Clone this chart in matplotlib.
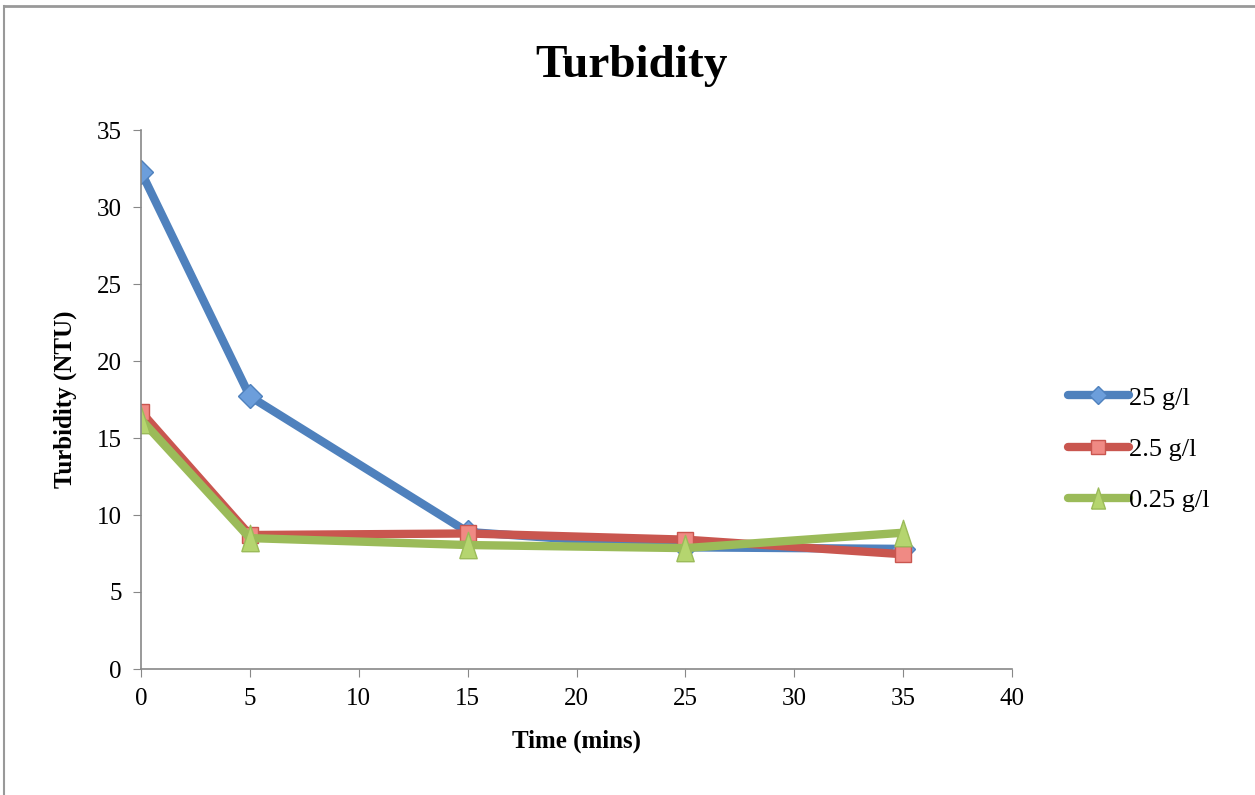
import matplotlib
matplotlib.use("Agg")
import matplotlib.pyplot as plt
from matplotlib.lines import Line2D

time = [0, 5, 15, 25, 35]
s25 = [32.3, 17.7, 8.9, 7.9, 7.8]
s2_5 = [16.7, 8.7, 8.8, 8.4, 7.45]
s0_25 = [16.2, 8.5, 8.05, 7.85, 8.85]
labels = ["25 g/l", "2.5 g/l", "0.25 g/l"]

plt.rcParams['font.family'] = ['Liberation Serif', 'DejaVu Serif']

fig = plt.figure(figsize=(12.55, 7.95), dpi=100)
ax = fig.add_axes([141/1255, 1-669/795, (1012-141)/1255, (669-130)/795])

tri = [(-0.33, -0.5), (0.33, -0.5), (0.0, 0.5), (-0.33, -0.5)]
styles = [
    (s25, '#4F81BD', 'D', '#6C9EDB', 12),
    (s2_5, '#C9564F', 's', '#F08A84', 12),
    (s0_25, '#9BBB59', tri, '#B5D56F', 19),
]
for (vals, col, mk, mfc, ms), lab in zip(styles, labels):
    ax.plot(time, vals, color=col, lw=6, marker=mk, markersize=ms,
            markerfacecolor=mfc, markeredgecolor=col, markeredgewidth=1.0,
            label=lab, solid_joinstyle='round', solid_capstyle='round')

ax.set_xlim(0, 40)
ax.set_ylim(0, 35)
ax.set_xticks(range(0, 41, 5))
ax.set_yticks(range(0, 36, 5))
for s in ['top', 'right']:
    ax.spines[s].set_visible(False)
for s in ['left', 'bottom']:
    ax.spines[s].set_color('#888888')
    ax.spines[s].set_linewidth(1.2)
ax.tick_params(direction='out', length=6, color='#888888', labelsize=18, pad=8)

fig.text(632/1255, 1-66/795, 'Turbidity', fontsize=34, fontweight='bold',
         ha='center', va='center')
ax.set_xlabel('Time (mins)', fontsize=18, fontweight='bold', labelpad=14)
ax.set_ylabel('Turbidity (NTU)', fontsize=18, fontweight='bold', labelpad=14)

leg = ax.legend(loc='center left', bbox_to_anchor=(1068/1255, 1-449/795),
                bbox_transform=fig.transFigure, frameon=False, fontsize=19,
                handlelength=2.3, handletextpad=0.0, labelspacing=1.05,
                borderpad=0, borderaxespad=0, markerscale=0.8)

fig.add_artist(Line2D([0.003, 1], [1-6/795, 1-6/795], transform=fig.transFigure, color='#999999', lw=2))
fig.add_artist(Line2D([0.003, 0.003], [0, 1-6/795], transform=fig.transFigure, color='#999999', lw=1.5))

fig.savefig('out.png', dpi=100)
